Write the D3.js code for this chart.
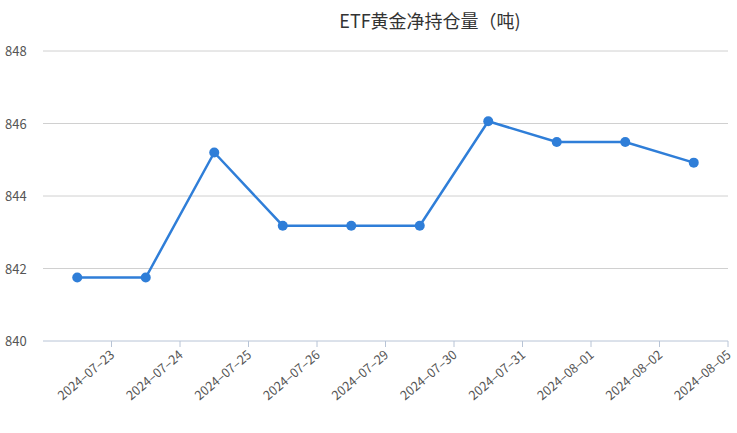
<!DOCTYPE html>
<html><head><meta charset="utf-8">
<script src="https://cdn.jsdelivr.net/npm/d3@7"></script>
<style>body{margin:0;background:#fff}</style>
</head><body>
<script>
const dates = ["2024-07-23","2024-07-24","2024-07-25","2024-07-26","2024-07-29","2024-07-30","2024-07-31","2024-08-01","2024-08-02","2024-08-05"];
const holdings = [841.75, 841.75, 845.2, 843.18, 843.18, 843.18, 846.06, 845.49, 845.49, 844.92];
const yTicks = [840, 842, 844, 846, 848];

const width = 737, height = 433;
const plotLeft = 43, plotRight = 728, plotTop = 51, plotBottom = 341;

const svg = d3.select("body").append("svg")
    .attr("width", width).attr("height", height)
    .style("font-family", "'Noto Sans CJK SC', 'Noto Sans', sans-serif");

const x = d3.scaleBand().domain(dates).range([plotLeft, plotRight]);
const y = d3.scaleLinear().domain([840, 848]).range([plotBottom, plotTop]);

// grid
svg.append("g").selectAll("line").data(yTicks.slice(1)).join("line")
    .attr("x1", plotLeft).attr("x2", plotRight)
    .attr("y1", d => y(d)).attr("y2", d => y(d))
    .attr("stroke", "#d0d0d0");

svg.append("g").selectAll("text").data(yTicks).join("text")
    .attr("x", 5).attr("y", d => y(d) + 5)
    .attr("font-size", 13).attr("fill", "#555")
    .text(d => d);

// x axis
svg.append("line").attr("x1", plotLeft).attr("x2", plotRight)
    .attr("y1", plotBottom).attr("y2", plotBottom).attr("stroke", "#b8c4d6");
svg.append("g").selectAll("line").data(dates).join("line")
    .attr("x1", d => x(d) + x.bandwidth()).attr("x2", d => x(d) + x.bandwidth())
    .attr("y1", plotBottom).attr("y2", plotBottom + 6).attr("stroke", "#b8c4d6");
svg.append("g").selectAll("text").data(dates).join("text")
    .attr("transform", d => `translate(${x(d) + x.bandwidth() + 1},${plotBottom + 12}) rotate(-40)`)
    .attr("text-anchor", "end").attr("dy", "0.35em")
    .attr("font-size", 12.5).attr("fill", "#555")
    .text(d => d.replace(/-/g, "\u2013"));

// line
const cx = d => x(d) + x.bandwidth() / 2;
svg.append("path").datum(dates)
    .attr("fill", "none").attr("stroke", "#2f7ed8").attr("stroke-width", 2.5)
    .attr("d", d3.line().x(cx).y((d, i) => y(holdings[i])));
svg.append("g").selectAll("circle").data(dates).join("circle")
    .attr("cx", cx).attr("cy", (d, i) => y(holdings[i]))
    .attr("r", 5).attr("fill", "#2f7ed8");

svg.append("text").attr("x", 430).attr("y", 28)
    .attr("text-anchor", "middle").attr("font-size", 18).attr("fill", "#333")
    .text("ETF黄金净持仓量（吨)");
</script>
</body></html>
